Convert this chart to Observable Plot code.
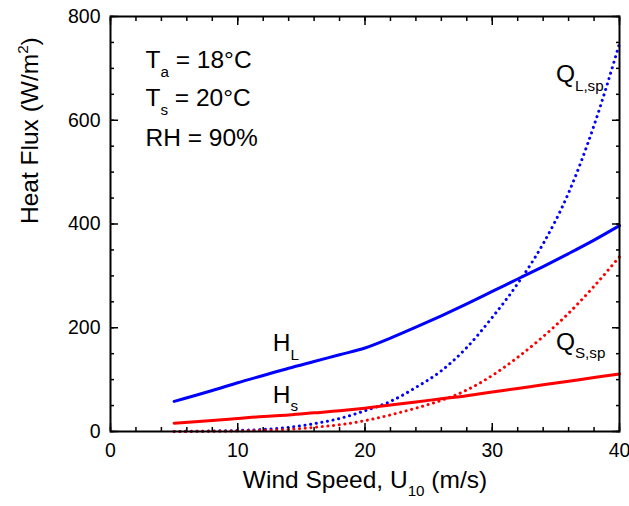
<!DOCTYPE html>
<html><head><meta charset="utf-8">
<script src="https://cdn.jsdelivr.net/npm/d3@7"></script>
<script src="https://cdn.jsdelivr.net/npm/@observablehq/plot@0.6"></script>
<style>
body{margin:0;background:#fff}
svg{overflow:visible}
</style>
</head><body><div id="chart"></div>
<script>
// ---- data ----
const windSpeed     = [5, 8, 10, 12, 14, 16, 18, 20, 22, 24, 26, 28, 30, 32, 34, 36, 38, 40];
const latentHeat    = [58, 79, 94, 108, 122, 135, 148, 161, 180, 201, 223, 246, 270, 294, 318, 343, 369, 397];
const sensibleHeat  = [16, 21, 25, 29, 32, 36, 40, 45, 51, 57, 63, 69, 76, 83, 90, 97, 104, 111];
const latentSpray   = [0, 1, 2, 4, 8, 15, 25, 40, 58, 85, 117, 162, 220, 285, 362, 460, 590, 748];
const sensibleSpray = [0, 0.5, 1, 2, 4, 8, 13, 21, 32, 45, 60, 80, 108, 143, 183, 228, 280, 337];

const xMajorTicks = [0, 10, 20, 30, 40];
const xMinorTicks = [0, 2, 4, 6, 8, 10, 12, 14, 16, 18, 20, 22, 24, 26, 28, 30, 32, 34, 36, 38, 40];
const yMajorTicks = [0, 200, 400, 600, 800];
const yMinorTicks = [0, 50, 100, 150, 200, 250, 300, 350, 400, 450, 500, 550, 600, 650, 700, 750, 800];

const noteText = ["T_{a} = 18°C", "T_{s} = 20°C", "RH = 90%", "H_{L}", "H_{s}", "Q_{L,sp}", "Q_{S,sp}"];
const noteX    = [2.75, 2.75, 2.75, 12.75, 12.75, 35.0, 35.0];
const noteY    = [715, 643, 566, 170, 71, 689, 173];

const xLabel = "Wind Speed, U_{10} (m/s)";
const yLabel = "Heat Flux (W/m^{2})";

// ---- tables built from the arrays ----
const mk = (ys) => windSpeed.map((x, i) => ({x, y: ys[i]}));
const notes = noteText.map((t, i) => ({t, x: noteX[i], y: noteY[i]}));

const BLUE = "#0000ff", RED = "#ff0000";
const dotted = {strokeWidth: 3, strokeDasharray: "0.1 5.6", strokeLinecap: "round", curve: "monotone-x"};
const solid = {strokeWidth: 3, curve: "monotone-x"};

const chart = Plot.plot({
  width: 629,
  height: 506,
  marginTop: 16,
  marginLeft: 110,
  marginRight: 10,
  marginBottom: 75,
  style: {fontFamily: "'Liberation Sans', Arial, sans-serif", color: "#000", background: "#fff", overflow: "visible"},
  x: {domain: [0, 40]},
  y: {domain: [0, 800]},
  marks: [
    Plot.line(mk(latentSpray), {x: "x", y: "y", stroke: BLUE, ...dotted}),
    Plot.line(mk(sensibleSpray), {x: "x", y: "y", stroke: RED, ...dotted}),
    Plot.line(mk(latentHeat), {x: "x", y: "y", stroke: BLUE, ...solid}),
    Plot.line(mk(sensibleHeat), {x: "x", y: "y", stroke: RED, ...solid}),
    Plot.frame({stroke: "#000", strokeWidth: 2}),
    // inward tick marks on all four sides
    Plot.axisX({ticks: xMajorTicks, anchor: "bottom", tickSize: -8, strokeWidth: 1.5, fill: "none", label: null}),
    Plot.axisX({ticks: xMinorTicks, anchor: "bottom", tickSize: -4, strokeWidth: 1.5, fill: "none", label: null}),
    Plot.axisX({ticks: xMajorTicks, anchor: "top", tickSize: -8, strokeWidth: 1.5, fill: "none", label: null}),
    Plot.axisX({ticks: xMinorTicks, anchor: "top", tickSize: -4, strokeWidth: 1.5, fill: "none", label: null}),
    Plot.axisY({ticks: yMajorTicks, anchor: "left", tickSize: -8, strokeWidth: 1.5, fill: "none", label: null}),
    Plot.axisY({ticks: yMinorTicks, anchor: "left", tickSize: -4, strokeWidth: 1.5, fill: "none", label: null}),
    Plot.axisY({ticks: yMajorTicks, anchor: "right", tickSize: -8, strokeWidth: 1.5, fill: "none", label: null}),
    Plot.axisY({ticks: yMinorTicks, anchor: "right", tickSize: -4, strokeWidth: 1.5, fill: "none", label: null}),
    // tick labels
    Plot.axisX({ticks: xMajorTicks, anchor: "bottom", tickSize: 0, tickPadding: 12, fontSize: 19.5, label: null}),
    Plot.axisY({ticks: yMajorTicks, anchor: "left", tickSize: 0, tickPadding: 10, fontSize: 19.5, label: null}),
    // axis titles
    Plot.text([xLabel], {text: d => d, frameAnchor: "bottom", dy: 56, fontSize: 24.5}),
    Plot.text([yLabel], {text: d => d, frameAnchor: "left", dx: -80, rotate: -90, fontSize: 24.5}),
    // annotations
    Plot.text(notes, {x: "x", y: "y", text: "t", textAnchor: "start", fontSize: 24.5})
  ]
});

document.getElementById("chart").appendChild(chart);

// turn _{..} and ^{..} into real sub/superscript tspans
chart.querySelectorAll("text").forEach(t => {
  if (t.querySelector("tspan")) return;
  const s = t.textContent;
  if (!/[_^]\{/.test(s)) return;
  const fs = parseFloat(getComputedStyle(t).fontSize) || 16;
  const re = /([_^])\{([^}]*)\}/g;
  t.textContent = "";
  let last = 0, m, pendingDy = 0;
  const add = (txt, size, dy) => {
    if (!txt) return;
    const ts = document.createElementNS("http://www.w3.org/2000/svg", "tspan");
    ts.textContent = txt;
    if (size) ts.setAttribute("font-size", size);
    if (dy) ts.setAttribute("dy", dy);
    t.appendChild(ts);
  };
  while ((m = re.exec(s))) {
    add(s.slice(last, m.index), null, pendingDy);
    const shift = m[1] === "_" ? 0.36 * fs : -0.42 * fs;
    add(m[2], 0.62 * fs, shift);
    pendingDy = -shift;
    last = re.lastIndex;
  }
  const rest = s.slice(last);
  if (rest) add(rest, null, pendingDy);
});
</script>
</body></html>
